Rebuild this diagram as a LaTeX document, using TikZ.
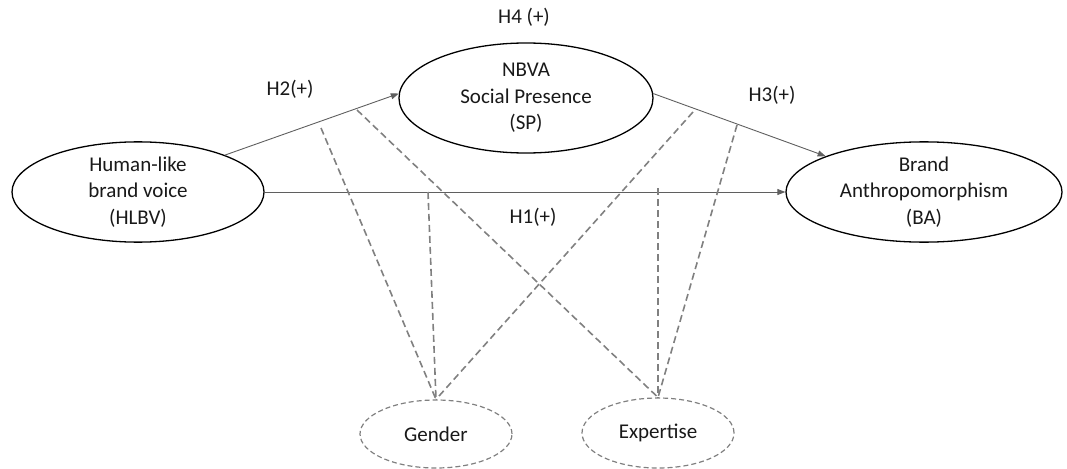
\documentclass[tikz,border=0pt]{standalone}
\usepackage{fontspec}
\setmainfont{Carlito}
\usetikzlibrary{shapes.geometric,arrows.meta}
\definecolor{arrowgray}{RGB}{95,95,95}
\definecolor{modgray}{RGB}{128,128,128}
\definecolor{textblack}{RGB}{25,25,25}
\begin{document}
\begin{tikzpicture}[x=1pt,y=-1pt,
  font=\fontsize{21}{26.7}\selectfont,
  text=textblack,
  construct/.style={ellipse,draw=black,line width=1.3pt,inner sep=0pt,align=center},
  moderator/.style={ellipse,draw=modgray,line width=1.2pt,dash pattern=on 5pt off 3pt,inner sep=0pt},
  hyp/.style={draw=arrowgray,line width=0.9pt,-{Triangle[length=8pt,width=6pt]}},
  modlink/.style={draw=modgray,line width=1.6pt,dash pattern=on 7pt off 4pt},
  lbl/.style={inner sep=0pt}]
\useasboundingbox (0,0) rectangle (1067,468);

% constructs
\node[construct,minimum width=252pt,minimum height=100pt] (hlbv) at (138,192) {Human-like\\brand voice\\(HLBV)};
\node[construct,minimum width=254pt,minimum height=110pt] (sp) at (526,98) {NBVA\\Social Presence\\(SP)};
\node[construct,minimum width=276pt,minimum height=100pt] (ba) at (924,192) {Brand\\Anthropomorphism\\(BA)};

% moderators
\node[moderator,minimum width=152pt,minimum height=68pt] (gender) at (436,434) {Gender};
\node[moderator,minimum width=152pt,minimum height=70pt] (expertise) at (658,433) {Expertise};

% hypothesised paths
\draw[hyp] (hlbv.23) -- (sp.178);
\draw[hyp] (sp.2) -- (ba.160);
\draw[hyp] (hlbv.east) -- (ba.west);

% hypothesis labels
\node[lbl] (h4) at (524,17) {H4 (+)};
\node[lbl] (h2) at (290,89) {H2(+)};
\node[lbl] (h3) at (772,95) {H3(+)};
\node[lbl] (h1) at (533,217) {H1(+)};

% moderation links
\coordinate (g1) at (321,128);
\coordinate (g2) at (428,192);
\coordinate (g3) at (693,112);
\coordinate (e1) at (357,110);
\coordinate (e2) at (658,188);
\coordinate (e3) at (737,125);

\draw[modlink] (g1) -- (gender.north);
\draw[modlink] (g2) -- (gender.north);
\draw[modlink] (g3) -- (gender.north);
\draw[modlink] (e1) -- (expertise.north);
\draw[modlink] (e2) -- (expertise.north);
\draw[modlink] (e3) -- (expertise.north);
\end{tikzpicture}
\end{document}
